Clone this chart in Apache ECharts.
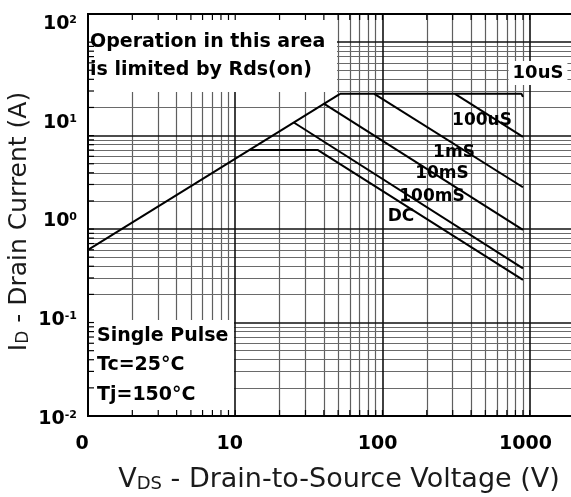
<!DOCTYPE html>
<html>
<head>
<meta charset="UTF-8">
<title>Safe Operating Area</title>
<script src="https://cdn.jsdelivr.net/npm/echarts@6/dist/echarts.min.js"></script>
<style>
html, body { margin: 0; padding: 0; background: #fff; }
#chart { width: 571px; height: 497px; }
</style>
</head>
<body>
<div id="chart"></div>
<script>
// axis ranges (log-log)
var vdsRange = [1, 2000];
var idRange = [0.01, 200];

// tick labels
var xTickValues = [1, 10, 100, 1000];
var xTickLabels = ['0', '10', '100', '1000'];
var yTickValues = [0.01, 0.1, 1, 10, 100];
var yTickExps = ['-2', '-1', '0', '1', '2'];

// curves, points are [Vds (V), Id (A)]
var rdsLimit = [[1, 0.6], [51.5, 28]];
var pulse10us = [[51.5, 28], [880, 28], [900, 26]];
var pulse100us = [[311, 28], [900, 9.7]];
var pulse1ms = [[88, 28], [900, 2.8]];
var pulse10ms = [[40, 22], [900, 0.98]];
var pulse100ms = [[25, 13.8], [900, 0.38]];
var dcLine = [[12.4, 7], [36.5, 7], [900, 0.286]];

var FONT = "'DejaVu Sans', sans-serif";

// 1..9 x decade grid values inside a range (ends are the frame)
function logGrid(range) {
	var major = [], minor = [];
	for (var d = Math.pow(10, Math.floor(Math.log10(range[0]))); d < range[1]; d *= 10) {
		for (var m = 1; m <= 9; m++) {
			var v = +(m * d).toPrecision(3);
			if (v <= range[0] || v >= range[1]) continue;
			(m === 1 ? major : minor).push(v);
		}
	}
	return { major: major, minor: minor };
}
var xGrid = logGrid(vdsRange);
var yGrid = logGrid(idRange);

function gridLines(values, key, color, width) {
	return values.map(function (v) {
		var d = {};
		d[key] = v;
		d.lineStyle = { color: color, width: width, type: 'solid' };
		return d;
	});
}

var gridMarks = [].concat(
	gridLines(xGrid.minor, 'xAxis', '#5f5f5f', 1.2),
	gridLines(yGrid.minor, 'yAxis', '#6a6a6a', 1.2),
	gridLines(xGrid.major, 'xAxis', '#111', 1.6),
	gridLines(yGrid.major, 'yAxis', '#111', 1.6)
);

// small inward ticks on the frame: [x, y, side] side 0 = left, 1 = top, 2 = bottom
var tickData = [];
yGrid.major.concat(yGrid.minor).forEach(function (v) { tickData.push([vdsRange[0], v, 0]); });
xGrid.major.concat(xGrid.minor).forEach(function (v) {
	tickData.push([v, idRange[1], 1]);
	tickData.push([v, idRange[0], 2]);
});

function sameVal(a, b) { return Math.abs(a - b) <= Math.abs(b) * 1e-6; }

var curves = [
	{ name: 'Rds(on)', data: rdsLimit },
	{ name: '10uS', data: pulse10us },
	{ name: '100uS', data: pulse100us },
	{ name: '1mS', data: pulse1ms },
	{ name: '10mS', data: pulse10ms },
	{ name: '100mS', data: pulse100ms },
	{ name: 'DC', data: dcLine }
];

var series = [{
	type: 'line',
	xAxisIndex: 0,
	yAxisIndex: 0,
	data: [],
	silent: true,
	markLine: {
		silent: true,
		z: 1,
		symbol: ['none', 'none'],
		label: { show: false },
		animation: false,
		data: gridMarks
	}
}, {
	type: 'custom',
	xAxisIndex: 0,
	yAxisIndex: 0,
	z: 21,
	silent: true,
	clip: false,
	data: tickData,
	renderItem: function (params, api) {
		var p = api.coord([api.value(0), api.value(1)]);
		var side = api.value(2);
		var len = 6;
		var end = side === 0 ? [p[0] + len, p[1]] : side === 1 ? [p[0], p[1] + len] : [p[0], p[1] - len];
		return {
			type: 'line',
			shape: { x1: p[0], y1: p[1], x2: end[0], y2: end[1] },
			style: { stroke: '#000', lineWidth: 1.2 }
		};
	}
}];

curves.forEach(function (c) {
	series.push({
		type: 'line',
		name: c.name,
		xAxisIndex: 0,
		yAxisIndex: 0,
		data: c.data,
		symbol: 'none',
		showSymbol: false,
		silent: true,
		z: 20,
		lineStyle: { color: '#000', width: 2 }
	});
});

var chart = echarts.init(document.getElementById('chart'));

var option = {
	animation: false,
	backgroundColor: '#fff',
	grid: [
		{ left: 88, top: 14, right: -3, bottom: 81, show: true, borderColor: '#000', borderWidth: 2, z: 25, outerBoundsMode: 'none' },
		{ left: 82, top: 24, right: 1, bottom: 78, show: false, outerBoundsMode: 'none' }
	],
	xAxis: [{
		type: 'log',
		gridIndex: 0,
		min: vdsRange[0],
		max: vdsRange[1],
		axisLine: { show: false },
		axisTick: { show: false },
		axisLabel: { show: false },
		splitLine: { show: false },
		name: '{v|V}{s|DS}{v| - Drain-to-Source Voltage (V)}',
		nameLocation: 'middle',
		nameGap: 47,
		nameMoveOverlap: false,
		nameTextStyle: {
			padding: [0, 0, 0, 16],
			rich: {
				v: { fontFamily: FONT, fontSize: 27, color: '#1a1a1a', lineHeight: 30, verticalAlign: 'bottom' },
				s: { fontFamily: FONT, fontSize: 18, color: '#1a1a1a', lineHeight: 30, verticalAlign: 'bottom' }
			}
		}
	}, {
		type: 'log',
		gridIndex: 1,
		min: vdsRange[0],
		max: vdsRange[1],
		axisLine: { show: false },
		axisTick: { show: false },
		splitLine: { show: false },
		axisLabel: {
			margin: 16,
			fontFamily: FONT,
			fontWeight: 'bold',
			fontSize: 19,
			color: '#000',
			showMaxLabel: false,
			formatter: function (v) {
				for (var i = 0; i < xTickValues.length; i++) {
					if (sameVal(v, xTickValues[i])) return xTickLabels[i];
				}
				return '';
			}
		}
	}],
	yAxis: [{
		type: 'log',
		gridIndex: 0,
		min: idRange[0],
		max: idRange[1],
		axisLine: { show: false },
		axisTick: { show: false },
		axisLabel: { show: false },
		splitLine: { show: false }
	}, {
		type: 'log',
		gridIndex: 1,
		min: yTickValues[0],
		max: yTickValues[yTickValues.length - 1],
		axisLine: { show: false },
		axisTick: { show: false },
		splitLine: { show: false },
		axisLabel: {
			margin: 5,
			formatter: function (v) {
				for (var i = 0; i < yTickValues.length; i++) {
					if (sameVal(v, yTickValues[i])) return '{b|10}{s|' + yTickExps[i] + '}';
				}
				return '';
			},
			rich: {
				b: { fontFamily: FONT, fontWeight: 'bold', fontSize: 19, color: '#000' },
				s: { fontFamily: FONT, fontWeight: 'bold', fontSize: 11, color: '#000', verticalAlign: 'top' }
			}
		},
		name: '{i|I}{d|D}{t| - Drain Current (A)}',
		nameLocation: 'middle',
		nameRotate: 90,
		nameGap: 50,
		nameMoveOverlap: false,
		nameTextStyle: {
			rich: {
				i: { fontFamily: FONT, fontSize: 25, color: '#1a1a1a', lineHeight: 28, verticalAlign: 'bottom' },
				d: { fontFamily: FONT, fontSize: 17, color: '#1a1a1a', lineHeight: 28, verticalAlign: 'bottom' },
				t: { fontFamily: FONT, fontSize: 25, color: '#1a1a1a', lineHeight: 28, verticalAlign: 'bottom' }
			}
		}
	}],
	graphic: { elements: [
		{ type: 'rect', z: 10, silent: true, shape: { x: 89, y: 15, width: 248, height: 77 }, style: { fill: '#fff' } },
		{ type: 'rect', z: 10, silent: true, shape: { x: 89, y: 320, width: 145, height: 95 }, style: { fill: '#fff' } },
		{ type: 'text', z: 30, silent: true, x: 90, y: 28, style: {
			text: 'Operation in this area\nis limited by Rds(on)', fontFamily: FONT, fontWeight: 'bold', fontSize: 19,
			lineHeight: 28, fill: '#000', align: 'left', verticalAlign: 'top' } },
		{ type: 'text', z: 30, silent: true, x: 97, y: 321, style: {
			text: 'Single Pulse\nTc=25°C\nTj=150°C', fontFamily: FONT, fontWeight: 'bold', fontSize: 19,
			lineHeight: 29.5, fill: '#000', align: 'left', verticalAlign: 'top' } },
		{ type: 'text', z: 30, silent: true, x: 538, y: 73, style: {
			text: '10uS', fontFamily: FONT, fontWeight: 'bold', fontSize: 18, fill: '#000',
			align: 'center', verticalAlign: 'middle', backgroundColor: '#fff', padding: [3, 4] } },
		{ type: 'text', z: 30, silent: true, x: 482, y: 121, style: {
			text: '100uS', fontFamily: FONT, fontWeight: 'bold', fontSize: 17, fill: '#000', align: 'center', verticalAlign: 'middle' } },
		{ type: 'text', z: 30, silent: true, x: 454, y: 153, style: {
			text: '1mS', fontFamily: FONT, fontWeight: 'bold', fontSize: 17, fill: '#000', align: 'center', verticalAlign: 'middle' } },
		{ type: 'text', z: 30, silent: true, x: 442, y: 174, style: {
			text: '10mS', fontFamily: FONT, fontWeight: 'bold', fontSize: 17, fill: '#000', align: 'center', verticalAlign: 'middle' } },
		{ type: 'text', z: 30, silent: true, x: 432, y: 197, style: {
			text: '100mS', fontFamily: FONT, fontWeight: 'bold', fontSize: 17, fill: '#000', align: 'center', verticalAlign: 'middle' } },
		{ type: 'text', z: 30, silent: true, x: 401, y: 217, style: {
			text: 'DC', fontFamily: FONT, fontWeight: 'bold', fontSize: 17, fill: '#000', align: 'center', verticalAlign: 'middle' } }
	] },
	series: series
};

chart.setOption(option);
</script>
</body>
</html>
